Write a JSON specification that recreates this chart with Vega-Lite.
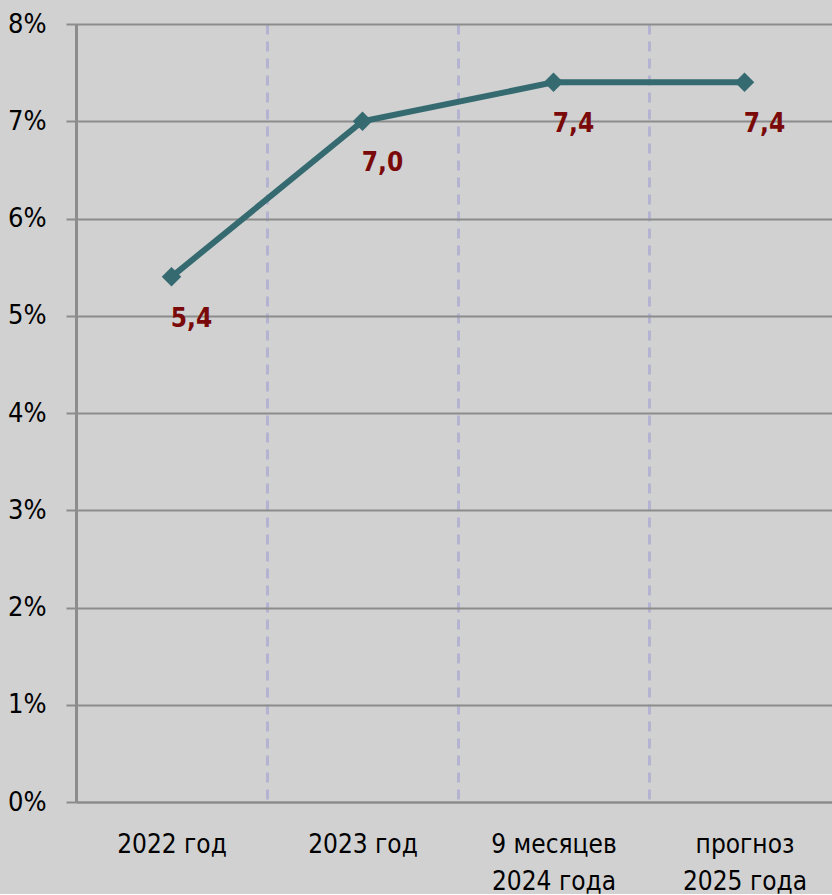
{
  "$schema": "https://vega.github.io/schema/vega-lite/v6.json",
  "width": 764,
  "height": 778,
  "padding": {"left": 7, "top": 10, "right": 0, "bottom": 0},
  "background": "#d1d1d1",
  "config": {
    "view": {"stroke": null},
    "locale": {"number": {"decimal": ",", "thousands": " ", "grouping": [3], "currency": ["", ""]}},
    "font": "DejaVu Sans Condensed, sans-serif"
  },
  "data": {
    "values": [
      {"cat": "2022 год", "v": 5.4},
      {"cat": "2023 год", "v": 7.0},
      {"cat": "9 месяцев|2024 года", "v": 7.4},
      {"cat": "прогноз|2025 года", "v": 7.4}
    ]
  },
  "encoding": {
    "x": {
      "field": "cat", "type": "nominal", "sort": null, "bandPosition": 0.5,
      "scale": {"type": "band", "paddingInner": 0, "paddingOuter": 0},
      "axis": {
        "title": null, "labelAngle": 0, "tickBand": "extent", "ticks": false,
        "domain": true, "domainColor": "#8c8c8c", "domainWidth": 2,
        "grid": true, "gridColor": "#b4b4d2", "gridWidth": 3, "gridDash": [10, 7],
        "labelExpr": "split(datum.label, '|')",
        "labelFont": "DejaVu Sans Condensed, sans-serif",
        "labelFontSize": 26, "labelColor": "#000000", "labelPadding": 29,
        "labelLineHeight": 37, "labelBaseline": "top"
      }
    },
    "y": {
      "field": "v", "type": "quantitative",
      "scale": {"domain": [0, 8], "nice": false},
      "axis": {
        "title": null, "values": [0, 1, 2, 3, 4, 5, 6, 7, 8],
        "labelExpr": "datum.value + '%'",
        "grid": true, "gridColor": "#8c8c8c", "gridWidth": 2,
        "domainColor": "#8c8c8c", "domainWidth": 3,
        "tickColor": "#8c8c8c", "tickWidth": 2, "tickSize": 10,
        "labelFont": "DejaVu Sans Condensed, sans-serif",
        "labelFontSize": 27, "labelColor": "#000000", "labelPadding": 20
      }
    }
  },
  "layer": [
    {"mark": {"type": "line", "color": "#356b70", "strokeWidth": 6}},
    {"mark": {"type": "point", "shape": "diamond", "filled": true, "size": 380, "color": "#356b70", "opacity": 1}},
    {
      "mark": {"type": "text", "dx": 20, "dy": 42, "fontSize": 26, "fontWeight": "bold", "color": "#7a0a0a", "align": "center", "baseline": "middle"},
      "encoding": {"text": {"field": "v", "type": "quantitative", "format": ".1f"}}
    }
  ]
}
